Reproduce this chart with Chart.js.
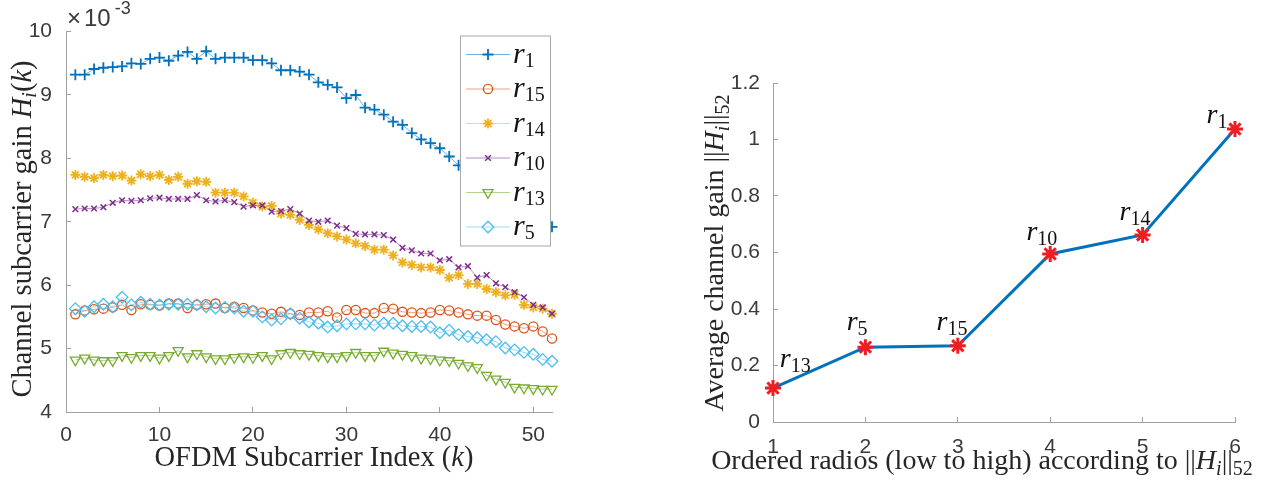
<!DOCTYPE html>
<html><head><meta charset="utf-8">
<script src="https://cdn.jsdelivr.net/npm/chart.js@4.4.1/dist/chart.umd.min.js"></script>
<style>
html,body{margin:0;padding:0;background:#fff;width:1280px;height:481px;overflow:hidden}
.box{position:absolute;top:0;width:640px;height:481px}
canvas{display:block}
</style></head><body>
<div class="box" style="left:0"><canvas id="c1" width="640" height="481"></canvas></div>
<div class="box" style="left:640px"><canvas id="c2" width="640" height="481"></canvas></div>
<script>
// ---------------- DATA ----------------
const subcarriers = [1,2,3,4,5,6,7,8,9,10,11,12,13,14,15,16,17,18,19,20,21,22,23,24,25,26,
  27,28,29,30,31,32,33,34,35,36,37,38,39,40,41,42,43,44,45,46,47,48,49,50,51,52];
const r1  = [9.32,9.32,9.41,9.43,9.44,9.45,9.50,9.49,9.57,9.59,9.54,9.62,9.68,9.57,9.69,9.57,9.59,9.59,9.59,9.55,
  9.55,9.50,9.39,9.39,9.37,9.32,9.20,9.16,9.12,8.95,9.00,8.80,8.77,8.69,8.58,8.53,8.40,8.30,8.24,8.16,
  8.03,7.89,7.80,7.70,7.61,7.50,7.41,7.30,7.21,7.10,7.01,6.92];
const r15 = [5.54,5.60,5.62,5.63,5.65,5.69,5.61,5.70,5.69,5.68,5.71,5.71,5.64,5.69,5.70,5.71,5.64,5.66,5.64,5.60,
  5.57,5.55,5.58,5.55,5.53,5.57,5.57,5.59,5.49,5.61,5.61,5.56,5.56,5.64,5.63,5.58,5.57,5.56,5.57,5.61,
  5.60,5.57,5.54,5.52,5.52,5.45,5.38,5.35,5.32,5.35,5.27,5.16];
const r14 = [7.74,7.71,7.69,7.74,7.72,7.73,7.65,7.75,7.72,7.74,7.66,7.71,7.60,7.64,7.63,7.46,7.46,7.46,7.40,7.30,
  7.24,7.25,7.13,7.11,7.03,6.95,6.88,6.82,6.77,6.72,6.66,6.62,6.56,6.56,6.47,6.36,6.32,6.28,6.28,6.24,
  6.12,6.16,6.02,6.02,5.94,5.89,5.84,5.85,5.69,5.65,5.63,5.55];
const r10 = [7.20,7.21,7.21,7.23,7.30,7.34,7.33,7.34,7.37,7.38,7.36,7.36,7.36,7.42,7.34,7.32,7.34,7.31,7.24,7.26,
  7.26,7.16,7.17,7.20,7.13,7.02,7.00,7.02,6.94,6.90,6.81,6.80,6.80,6.79,6.72,6.59,6.55,6.50,6.50,6.39,
  6.41,6.28,6.30,6.12,6.16,6.03,5.97,5.89,5.81,5.69,5.65,5.55];
const r13 = [4.82,4.85,4.82,4.81,4.81,4.89,4.86,4.89,4.89,4.85,4.89,4.97,4.87,4.92,4.87,4.84,4.84,4.86,4.87,4.86,
  4.89,4.84,4.92,4.94,4.92,4.91,4.89,4.87,4.87,4.89,4.94,4.89,4.89,4.96,4.93,4.91,4.89,4.85,4.84,4.82,
  4.81,4.77,4.73,4.70,4.58,4.52,4.47,4.39,4.38,4.37,4.36,4.36];
const r5  = [5.63,5.59,5.66,5.70,5.66,5.81,5.69,5.73,5.70,5.69,5.70,5.70,5.70,5.69,5.66,5.64,5.65,5.64,5.59,5.59,
  5.50,5.45,5.47,5.55,5.48,5.42,5.40,5.34,5.36,5.39,5.39,5.39,5.37,5.40,5.40,5.36,5.35,5.35,5.34,5.25,
  5.29,5.22,5.19,5.17,5.14,5.11,5.01,4.98,4.94,4.91,4.83,4.80];
const seriesSub = ['1','15','14','10','13','5'];

const xTicks1 = [0,10,20,30,40,50];
const yTicks1 = [4,5,6,7,8,9,10];

const radioRank = [1,2,3,4,5,6];
const radioSub  = ['13','5','15','10','14','1'];
const avgGain   = [0.12,0.265,0.27,0.595,0.662,1.037];
const xTicks2 = [1,2,3,4,5,6];
const yTicks2 = [0,0.2,0.4,0.6,0.8,1,1.2];
const yTickLabels2 = ['0','0.2','0.4','0.6','0.8','1','1.2'];

// ---------------- STYLE ----------------
const SERIF = '"Liberation Serif","Times New Roman",serif';
const SANS = '"Liberation Sans",Arial,sans-serif';
const TICKC = '#3a3a3a', AXISC = '#a0a0a0', TITLEC = '#262626';

const styles = [
  {c:'#0072BD', line:'rgba(0,114,189,0.55)', ps:'cross', r:5.5, bw:1.8, rot:0},
  {c:'#D95319', line:'rgba(217,83,25,0.55)', ps:'circle', r:4.6, bw:1.3, rot:0},
  {c:'#EDB120', line:'rgba(237,177,32,0.55)', ps:'star', r:5, bw:1.8, rot:0},
  {c:'#7E2F8E', line:'rgba(126,47,142,0.55)', ps:'crossRot', r:4, bw:1.5, rot:0},
  {c:'#77AC30', line:'rgba(119,172,48,0.55)', ps:'triangle', r:5.8, bw:1.3, rot:180},
  {c:'#4DBEEE', line:'rgba(77,190,238,0.55)', ps:'rectRot', r:5.8, bw:1.3, rot:0}
];

function segFont(s, o){
  const sz = (s.sub||s.sup) ? o.subSize : o.size;
  return (s.it?'italic ':'') + sz + 'px ' + (s.sans?SANS:SERIF);
}
function drawRich(ctx, segs, x, y, o){
  ctx.save();
  ctx.translate(x,y);
  if (o.rot) ctx.rotate(o.rot);
  let w = 0;
  for (const s of segs){ ctx.font = segFont(s,o); w += ctx.measureText(s.t).width + (s.gap||0); }
  let cx = o.align==='center' ? -w/2 : 0;
  ctx.fillStyle = o.color; ctx.textAlign='left'; ctx.textBaseline='alphabetic';
  for (const s of segs){
    cx += (s.gap||0);
    ctx.font = segFont(s,o);
    const dy = s.sub ? (o.subDy||5) : (s.sup ? -(o.supDy||10) : 0);
    ctx.fillText(s.t, cx, dy);
    cx += ctx.measureText(s.t).width;
  }
  ctx.restore();
}
function marker(ctx, st, x, y){
  ctx.save();
  ctx.strokeStyle = st.c; ctx.fillStyle='rgba(0,0,0,0)'; ctx.lineWidth = st.bw;
  if (Chart.helpers && Chart.helpers.drawPoint){
    Chart.helpers.drawPoint(ctx, {pointStyle:st.ps, radius:st.r, rotation:st.rot, borderWidth:st.bw}, x, y);
  }
  ctx.restore();
}

function axisCommon(){
  return {
    border:{display:true, color:AXISC, width:1},
    grid:{drawOnChartArea:false, drawTicks:true, tickLength:-5, color:AXISC, tickColor:AXISC, tickWidth:1},
  };
}

// ---------------- LEFT CHART ----------------
const leftSeries = [r1, r15, r14, r10, r13, r5];
const leftDatasets = leftSeries.map((arr, i) => ({
  label: 'r' + seriesSub[i],
  data: subcarriers.map((k, j) => ({x:k, y:arr[j]})),
  borderColor: styles[i].line,
  borderWidth: 1,
  pointStyle: styles[i].ps,
  pointRadius: styles[i].r,
  pointRotation: styles[i].rot,
  pointBorderColor: styles[i].c,
  pointBackgroundColor: 'rgba(0,0,0,0)',
  pointBorderWidth: styles[i].bw,
  tension: 0,
  clip: false,
  order: 5 - i
}));

const leftDecor = {
  id:'leftDecor',
  afterDraw(chart){
    const ctx = chart.ctx;
    drawRich(ctx, [{t:'Channel subcarrier gain '},{t:'H',it:1},{t:'i',it:1,sub:1},{t:'('},{t:'k',it:1},{t:')'}],
      31, 229, {size:28.5, subSize:20, subDy:5, align:'center', rot:-Math.PI/2, color:TITLEC});
    drawRich(ctx, [{t:'OFDM Subcarrier Index ('},{t:'k',it:1},{t:')'}],
      314, 466, {size:28.5, subSize:20, align:'center', color:TITLEC});
    drawRich(ctx, [{t:'\u00d7',sans:1},{t:'10',sans:1,gap:3},{t:'-3',sans:1,sup:1,gap:4}],
      67, 26, {size:24, subSize:18, supDy:12, align:'left', color:TICKC});
    // legend
    const L = 460.5, T = 36, W = 90, H = 210;
    ctx.save();
    ctx.fillStyle = '#fff'; ctx.fillRect(L, T, W, H);
    ctx.strokeStyle = '#a8a8a8'; ctx.lineWidth = 1; ctx.strokeRect(L, T, W, H);
    ctx.restore();
    for (let i = 0; i < styles.length; i++){
      const y = 54.5 + i*34.5;
      ctx.save();
      ctx.strokeStyle = styles[i].line; ctx.lineWidth = 1;
      ctx.beginPath(); ctx.moveTo(466, y); ctx.lineTo(510, y); ctx.stroke();
      ctx.restore();
      marker(ctx, styles[i], 488, y);
      drawRich(ctx, [{t:'r',it:1},{t:seriesSub[i],sub:1}], 513, y+8,
        {size:30, subSize:20, subDy:4, align:'left', color:'#111'});
    }
  }
};

new Chart(document.getElementById('c1'), {
  type:'line',
  data:{datasets:leftDatasets},
  options:{
    responsive:false, animation:false, events:[],
    layout:{padding:{left:0, top:30, right:88, bottom:0}},
    plugins:{legend:{display:false}, tooltip:{enabled:false}, title:{display:false}},
    scales:{
      x:Object.assign(axisCommon(), {
        type:'linear', min:0, max:52,
        afterBuildTicks(s){ s.ticks = xTicks1.map(v=>({value:v})); },
        afterFit(s){ s.height = 69; },
        ticks:{padding:16, color:TICKC, font:{family:SANS, size:21}, maxRotation:0, callback:v=>String(v)}
      }),
      y:Object.assign(axisCommon(), {
        type:'linear', min:4, max:10,
        afterBuildTicks(s){ s.ticks = yTicks1.map(v=>({value:v})); },
        afterFit(s){ s.width = 66; },
        ticks:{padding:19, color:TICKC, font:{family:SANS, size:21}, callback:v=>String(v)}
      })
    }
  },
  plugins:[leftDecor]
});

// ---------------- RIGHT CHART ----------------
const annotOffsets = [[0.073,0.076],[-0.203,0.062],[-0.23,0.057],[-0.257,0.05],[-0.249,0.054],[-0.308,0.022]];

const rightDecor = {
  id:'rightDecor',
  afterDraw(chart){
    const ctx = chart.ctx, xs = chart.scales.x, ys = chart.scales.y;
    drawRich(ctx, [{t:'Average channel gain ||'},{t:'H',it:1},{t:'i',it:1,sub:1},{t:'||'},{t:'52',sub:1}],
      83, 253, {size:28, subSize:20, subDy:6, align:'center', rot:-Math.PI/2, color:TITLEC});
    drawRich(ctx, [{t:'Ordered radios (low to high) according to ||'},{t:'H',it:1},{t:'i',it:1,sub:1},{t:'||'},{t:'52',sub:1}],
      342, 469, {size:28, subSize:20, subDy:6, align:'center', color:TITLEC});
    for (let i = 0; i < radioRank.length; i++){
      const px = xs.getPixelForValue(radioRank[i] + annotOffsets[i][0]);
      const py = ys.getPixelForValue(avgGain[i] + annotOffsets[i][1]);
      drawRich(ctx, [{t:'r',it:1},{t:radioSub[i],sub:1}], px, py,
        {size:28, subSize:20, subDy:5, align:'left', color:'#111'});
    }
  }
};

new Chart(document.getElementById('c2'), {
  type:'line',
  data:{datasets:[{
    label:'Average channel gain',
    data: radioRank.map((r,i)=>({x:r, y:avgGain[i]})),
    borderColor:'#0072BD', borderWidth:3,
    pointStyle:'star', pointRadius:8, pointBorderWidth:3,
    pointBorderColor:'#f01e23', pointBackgroundColor:'#f01e23',
    tension:0, clip:false
  }]},
  options:{
    responsive:false, animation:false, events:[],
    layout:{padding:{left:0, top:83, right:45, bottom:0}},
    plugins:{legend:{display:false}, tooltip:{enabled:false}, title:{display:false}},
    scales:{
      x:Object.assign(axisCommon(), {
        type:'linear', min:1, max:6,
        afterBuildTicks(s){ s.ticks = xTicks2.map(v=>({value:v})); },
        afterFit(s){ s.height = 59; },
        ticks:{padding:18, color:TICKC, font:{family:SANS, size:21}, maxRotation:0, callback:v=>String(v)}
      }),
      y:Object.assign(axisCommon(), {
        type:'linear', min:0, max:1.2,
        afterBuildTicks(s){ s.ticks = yTicks2.map(v=>({value:v})); },
        afterFit(s){ s.width = 133; },
        ticks:{padding:18, color:TICKC, font:{family:SANS, size:21},
          callback:(v)=>{ const i = yTicks2.findIndex(t=>Math.abs(t-v)<1e-9); return i>=0 ? yTickLabels2[i] : ''; }}
      })
    }
  },
  plugins:[rightDecor]
});
</script>
</body></html>
